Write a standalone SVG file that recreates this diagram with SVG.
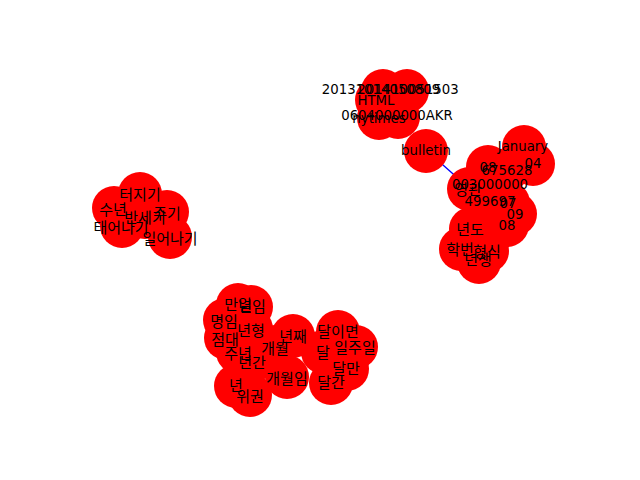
<svg xmlns="http://www.w3.org/2000/svg" width="640" height="480" viewBox="0 0 640 480">
<style>
.n{fill:#ff0000;stroke:none}
.e{stroke:#0000ff;stroke-width:1.3;fill:none}
text{font-family:"DejaVu Sans","Noto Sans CJK KR",sans-serif;font-size:13.3px;fill:#000;text-anchor:middle;dominant-baseline:central}
text.k{font-family:"Noto Sans CJK KR","DejaVu Sans",sans-serif;font-size:15px}
</style>
<rect width="640" height="480" fill="#fff"/>
<g id="connectors">
<line class="e" x1="426" y1="150" x2="469" y2="188"/>
</g>
<g id="nodes">
<g id="n-2013"><circle class="n" cx="383" cy="91" r="22"/></g>
<g id="n-2014"><circle class="n" cx="407" cy="91" r="22"/></g>
<g id="n-html"><circle class="n" cx="377" cy="100" r="22"/></g>
<g id="n-akr"><circle class="n" cx="398" cy="117" r="22"/></g>
<g id="n-nytimes"><circle class="n" cx="379" cy="118" r="22"/></g>
<g id="n-bulletin"><circle class="n" cx="426" cy="151" r="22"/></g>
<g id="n-january"><circle class="n" cx="524" cy="147" r="22"/></g>
<g id="n-04"><circle class="n" cx="533" cy="164" r="22"/></g>
<g id="n-675628"><circle class="n" cx="507" cy="170" r="22"/></g>
<g id="n-08a"><circle class="n" cx="488" cy="167" r="22"/></g>
<g id="n-003000000"><circle class="n" cx="490" cy="184" r="22"/></g>
<g id="n-yg"><circle class="n" cx="469" cy="189" r="22"/></g>
<g id="n-499697"><circle class="n" cx="491" cy="201" r="22"/></g>
<g id="n-07"><circle class="n" cx="508" cy="203" r="22"/></g>
<g id="n-09"><circle class="n" cx="515" cy="214" r="22"/></g>
<g id="n-08b"><circle class="n" cx="507" cy="225" r="22"/></g>
<g id="n-nyeondo"><circle class="n" cx="471" cy="229" r="22"/></g>
<g id="n-hakbeon"><circle class="n" cx="461" cy="249" r="22"/></g>
<g id="n-hyeongsik"><circle class="n" cx="487" cy="251" r="22"/></g>
<g id="n-nyeonsaeng"><circle class="n" cx="479" cy="262" r="22"/></g>
<g id="n-teojigi"><circle class="n" cx="140" cy="194" r="22"/></g>
<g id="n-sunyeon"><circle class="n" cx="114" cy="208" r="22"/></g>
<g id="n-jugi"><circle class="n" cx="167" cy="212" r="22"/></g>
<g id="n-bansegi"><circle class="n" cx="145" cy="217" r="22"/></g>
<g id="n-taeeonagi"><circle class="n" cx="122" cy="226" r="22"/></g>
<g id="n-ireonagi"><circle class="n" cx="170" cy="237" r="22"/></g>
<g id="n-manil"><circle class="n" cx="238" cy="305" r="22"/></g>
<g id="n-nyeonim"><circle class="n" cx="251" cy="307" r="22"/></g>
<g id="n-myeongim"><circle class="n" cx="225" cy="320" r="22"/></g>
<g id="n-nyeonhyeong"><circle class="n" cx="251" cy="329" r="22"/></g>
<g id="n-jeomdae"><circle class="n" cx="226" cy="338" r="22"/></g>
<g id="n-junyeon"><circle class="n" cx="238" cy="352" r="22"/></g>
<g id="n-nyeongan"><circle class="n" cx="252" cy="361" r="22"/></g>
<g id="n-gaewol"><circle class="n" cx="275" cy="347" r="22"/></g>
<g id="n-nyeonjjae"><circle class="n" cx="293" cy="336" r="22"/></g>
<g id="n-gaewolim"><circle class="n" cx="287" cy="377" r="22"/></g>
<g id="n-nyeon"><circle class="n" cx="236" cy="386" r="22"/></g>
<g id="n-wigwon"><circle class="n" cx="250" cy="395" r="22"/></g>
<g id="n-dalimyeon"><circle class="n" cx="338" cy="332" r="22"/></g>
<g id="n-iljuil"><circle class="n" cx="356" cy="347" r="22"/></g>
<g id="n-dal"><circle class="n" cx="323" cy="352" r="22"/></g>
<g id="n-dalman"><circle class="n" cx="347" cy="369" r="22"/></g>
<g id="n-dalgan"><circle class="n" cx="331" cy="383" r="22"/></g>
</g>
<g id="labels">
<text x="381" y="89">20131014050809</text>
<text x="408" y="89">201410051503</text>
<text x="376" y="100">HTML</text>
<text x="397" y="115">0604000000AKR</text>
<text x="379" y="118">nytimes</text>
<text x="426" y="150">bulletin</text>
<text x="523" y="146">January</text>
<text x="533" y="163">04</text>
<text x="507" y="170">675628</text>
<text x="488" y="167">08</text>
<text x="490" y="184">003000000</text>
<text class="k" x="468" y="188">영관</text>
<text x="490" y="201">499697</text>
<text x="508" y="203">07</text>
<text x="515" y="214">09</text>
<text x="507" y="225">08</text>
<text class="k" x="470" y="228">년도</text>
<text class="k" x="460" y="248">학번</text>
<text class="k" x="487" y="250">형식</text>
<text class="k" x="478" y="258">년생</text>
<text class="k" x="140" y="193">터지기</text>
<text class="k" x="113" y="208">수년</text>
<text class="k" x="167" y="212">주기</text>
<text class="k" x="145" y="216">반세기</text>
<text class="k" x="121" y="226">태어나기</text>
<text class="k" x="170" y="237">일어나기</text>
<text class="k" x="238" y="303">만일</text>
<text class="k" x="252" y="305">년임</text>
<text class="k" x="224" y="320">명임</text>
<text class="k" x="251" y="329">년형</text>
<text class="k" x="225" y="338">점대</text>
<text class="k" x="238" y="352">주년</text>
<text class="k" x="252" y="361">년간</text>
<text class="k" x="275" y="347">개월</text>
<text class="k" x="293" y="335">년째</text>
<text class="k" x="287" y="377">개월임</text>
<text class="k" x="236" y="384">년</text>
<text class="k" x="250" y="395">위권</text>
<text class="k" x="338" y="330">달이면</text>
<text class="k" x="355" y="346">일주일</text>
<text class="k" x="323" y="351">달</text>
<text class="k" x="346" y="367">달만</text>
<text class="k" x="331" y="381">달간</text>
</g>
</svg>
